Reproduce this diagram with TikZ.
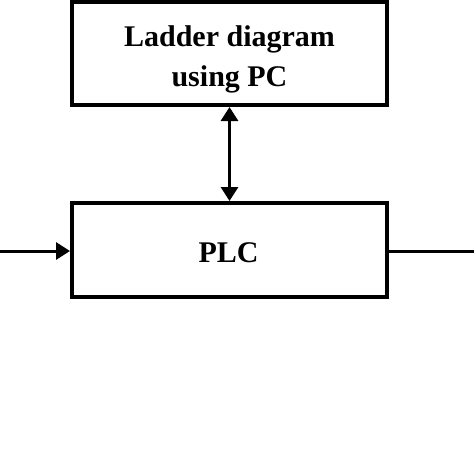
\documentclass[tikz,border=0pt]{standalone}
\usepackage{fontspec}
\setmainfont{Liberation Serif}
\usetikzlibrary{arrows.meta}
\begin{document}
\begin{tikzpicture}[x=1pt,y=1pt,
  blockbox/.style={draw=black, line width=4pt, rectangle, minimum width=315pt, inner sep=0pt},
  blocktext/.style={align=center, font=\bfseries\fontsize{30}{40}\selectfont, inner sep=0pt},
  conn/.style={line width=3pt, draw=black},
  tipx/.tip={Triangle[length=14pt,width=17pt]}
]
\useasboundingbox (0,0) rectangle (474,-474);
\node[blockbox, minimum height=103pt] (pc) at (229.5,-53.5) {};
\node[blocktext, anchor=base] (pctext) at (229.5,-86) {Ladder diagram\\using PC};
\node[blockbox, minimum height=94pt] (plc) at (229.5,-250) {};
\node[blocktext, anchor=base] (plctext) at (228.5,-262) {PLC};
\coordinate (inL) at (0,-251);
\coordinate (outR) at (474,-251);
\draw[conn, tipx-tipx] (pc.south) -- (plc.north);
\draw[conn, -tipx] (inL) -- (inL -| plc.west);
\draw[conn] (outR -| plc.east) -- (outR);
\end{tikzpicture}
\end{document}
